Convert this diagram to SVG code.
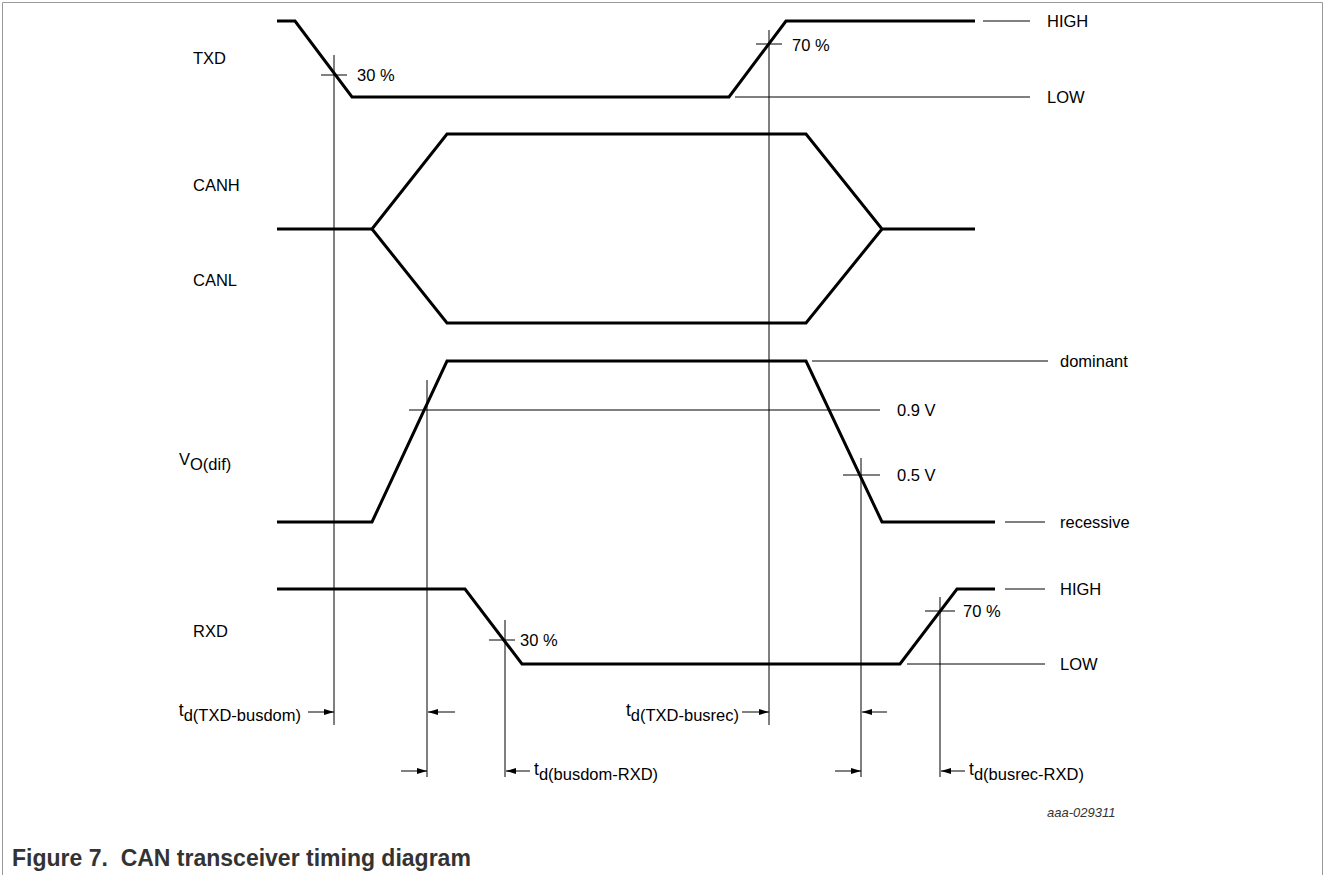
<svg xmlns="http://www.w3.org/2000/svg" width="1325" height="875" viewBox="0 0 1325 875">
<style>
text{font-family:"Liberation Sans",Arial,sans-serif;font-size:16.5px;fill:#000}
.sub{font-size:16.5px}
.t{font-size:17.5px}
.wave{fill:none;stroke:#000;stroke-width:3;stroke-linejoin:miter}
.thin{fill:none;stroke:#000;stroke-width:1}
.arr{fill:none;stroke:#000;stroke-width:1;marker-end:url(#ah)}
.cap{font-weight:bold;font-size:23px;fill:#333}
.id{font-style:italic;font-size:13px;fill:#333}
</style>
<defs>
<marker id="ah" viewBox="0 0 10 6" refX="10" refY="3" markerWidth="10" markerHeight="6" markerUnits="userSpaceOnUse" orient="auto">
<path d="M0,0 L10,3 L0,6 Z" fill="#000"/>
</marker>
</defs>
<path d="M2.5,875 V2.5 H1322.5 V875" fill="none" stroke="#999" stroke-width="1"/>

<g id="labels">
<text x="193" y="64">TXD</text>
<text x="193" y="191">CANH</text>
<text x="193" y="286">CANL</text>
<text x="179" y="465">V<tspan class="sub" dy="5">O(dif)</tspan></text>
<text x="193" y="637">RXD</text>
</g>

<g id="txd">
<path class="wave" d="M277,21 H295 L352,97 H729 L786,21 H975"/>
<path class="thin" d="M321,75 H347 M756,44 H782"/>
<text x="357" y="81">30 %</text>
<text x="792" y="51">70 %</text>
<path class="thin" d="M983,21 H1030 M735,97 H1030"/>
<text x="1047" y="27">HIGH</text>
<text x="1047" y="103">LOW</text>
</g>

<g id="can">
<path class="wave" d="M277,229 H372 L447,134 H806 L882,229 H975"/>
<path class="wave" d="M372,229 L447,323 H806 L882,229"/>
</g>

<g id="vodif">
<path class="wave" d="M277,522 H372 L447,361 H806 L882,522 H995"/>
<path class="thin" d="M812,361 H1048 M409,410 H880 M843,475 H880 M1005,522 H1045"/>
<text x="1060" y="367">dominant</text>
<text x="897" y="416">0.9 V</text>
<text x="897" y="481">0.5 V</text>
<text x="1060" y="528">recessive</text>
</g>

<g id="rxd">
<path class="wave" d="M277,589 H465 L522,664 H900 L957,589 H995"/>
<path class="thin" d="M489,640 H515 M925,611 H955 M1005,589 H1045 M907,664 H1045"/>
<text x="520" y="646">30 %</text>
<text x="963" y="617">70 %</text>
<text x="1060" y="595">HIGH</text>
<text x="1060" y="670">LOW</text>
</g>

<g id="connectors">
<path class="thin" d="M334,55 V725 M769,30 V725 M427,380 V777 M861,458 V777 M505,620 V777 M940,597 V777"/>
<path class="arr" d="M308,712 H334"/>
<path class="arr" d="M455,712 H428"/>
<path class="arr" d="M742,712 H769"/>
<path class="arr" d="M887,712 H862"/>
<path class="arr" d="M401,771 H427"/>
<path class="arr" d="M530,771 H506"/>
<path class="arr" d="M835,771 H861"/>
<path class="arr" d="M965,771 H941"/>
</g>

<g id="timing-labels">
<text x="301" y="716" text-anchor="end"><tspan class="t">t</tspan><tspan class="sub" dy="5">d(TXD-busdom)</tspan></text>
<text x="739" y="716" text-anchor="end"><tspan class="t">t</tspan><tspan class="sub" dy="5">d(TXD-busrec)</tspan></text>
<text x="534" y="775"><tspan class="t">t</tspan><tspan class="sub" dy="5">d(busdom-RXD)</tspan></text>
<text x="969" y="775"><tspan class="t">t</tspan><tspan class="sub" dy="5">d(busrec-RXD)</tspan></text>
</g>

<text class="id" x="1047" y="817">aaa-029311</text>
<text class="cap" x="12" y="866">Figure 7.&#160; CAN transceiver timing diagram</text>
</svg>
